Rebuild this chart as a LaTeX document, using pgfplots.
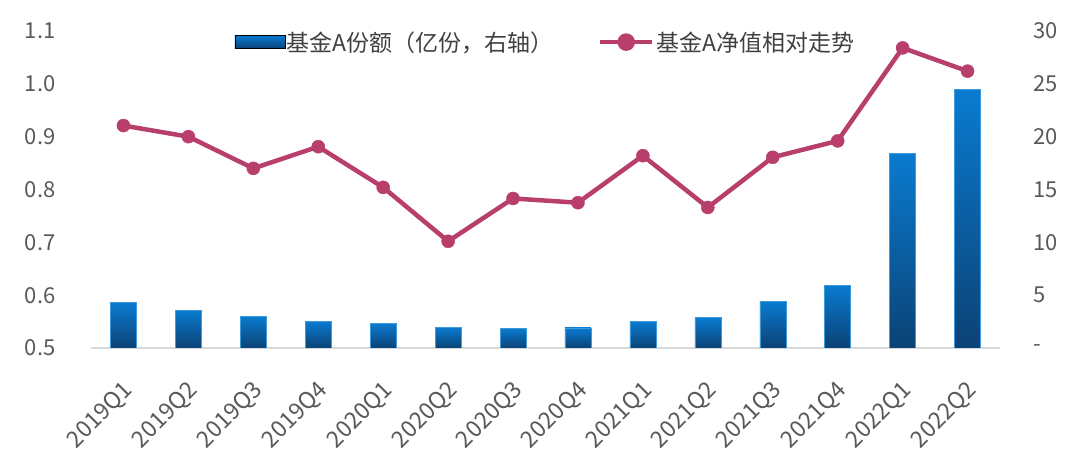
\documentclass[border=0pt]{standalone}
\usepackage{pgfplots}
\pgfplotsset{compat=1.18}
\usepackage{fontspec}
\setmainfont{Noto Sans CJK SC}
\definecolor{txt}{HTML}{595959}
\definecolor{legtxt}{HTML}{404040}
\definecolor{linec}{HTML}{B83E6C}
\definecolor{bartop}{HTML}{0A7BD0}
\definecolor{barmid}{HTML}{0868B2}
\definecolor{barbot}{HTML}{0B4275}
\definecolor{baredge}{HTML}{3D9BDD}
\definecolor{axc}{HTML}{D9D9D9}
\pgfplotstableread{
x nav
0 0.921
1 0.900
2 0.840
3 0.881
4 0.804
5 0.702
6 0.783
7 0.775
8 0.864
9 0.766
10 0.861
11 0.892
12 1.068
13 1.024
}\navtable
\pgfplotsset{
  sharebar/.style={ybar, bar width=26pt, bar shift=0pt, draw=baredge, line width=0.4pt,
    top color=bartop, middle color=barmid, bottom color=barbot},
}
\begin{document}
\begin{tikzpicture}
\useasboundingbox (0,0) rectangle (1080pt,460pt);
\begin{axis}[
  at={(91pt,112pt)}, anchor=south west,
  scale only axis, width=909pt, height=317pt,
  xmin=-0.5, xmax=13.5, ymin=0, ymax=30,
  axis x line*=bottom, axis y line*=right,
  x axis line style={draw=axc, line width=1.2pt, -},
  y axis line style={draw=none},
  xtick={0,...,13},
  xticklabels={2019Q1,2019Q2,2019Q3,2019Q4,2020Q1,2020Q2,2020Q3,2020Q4,2021Q1,2021Q2,2021Q3,2021Q4,2022Q1,2022Q2},
  x tick label style={rotate=45, anchor=north east, font=\fontsize{23}{25}\selectfont, text=txt, inner sep=1pt, xshift=-22.6pt, yshift=-19.8pt},
  ytick={0,5,10,15,20,25,30},
  yticklabels={-,5,10,15,20,25,30},
  y tick label style={font=\fontsize{22}{24}\selectfont, text=txt, anchor=west, xshift=30pt},
  major tick length=0pt,
  /pgf/number format/assume math mode=true,
]
\addplot[sharebar] coordinates {(0,4.31)};
\addplot[sharebar] coordinates {(1,3.55)};
\addplot[sharebar] coordinates {(2,3.00)};
\addplot[sharebar] coordinates {(3,2.53)};
\addplot[sharebar] coordinates {(4,2.31)};
\addplot[sharebar] coordinates {(5,1.96)};
\addplot[sharebar] coordinates {(6,1.84)};
\addplot[sharebar] coordinates {(7,1.90)};
\addplot[sharebar] coordinates {(8,2.53)};
\addplot[sharebar] coordinates {(9,2.88)};
\addplot[sharebar] coordinates {(10,4.43)};
\addplot[sharebar] coordinates {(11,5.95)};
\addplot[sharebar] coordinates {(12,18.4)};
\addplot[sharebar] coordinates {(13,24.5)};
\end{axis}
\begin{axis}[
  at={(91pt,112pt)}, anchor=south west,
  scale only axis, width=909pt, height=317pt,
  xmin=-0.5, xmax=13.5, ymin=0.5, ymax=1.1,
  axis x line=none, axis y line*=left,
  y axis line style={draw=none},
  ytick={0.5,0.6,0.7,0.8,0.9,1.0,1.1},
  yticklabel style={/pgf/number format/.cd, fixed, fixed zerofill, precision=1, /tikz/.cd, font=\fontsize{22}{24}\selectfont, text=txt, anchor=east, xshift=-32pt},
  major tick length=0pt,
  /pgf/number format/assume math mode=true,
  legend style={draw=none, fill=none, at={(0.5,0.965)}, anchor=center, font=\fontsize{23}{25}\selectfont, text=legtxt, legend columns=2, /tikz/every even column/.append style={column sep=42pt}, inner sep=0pt},
  legend cell align=left,
]
\addlegendimage{legend image code/.code={\fill[top color=bartop, middle color=barmid, bottom color=barbot] (0pt,-6.5pt) rectangle (50pt,6.5pt);}}
\addlegendentry{基金A份额（亿份，右轴）}
\addplot[color=linec, line width=4.5pt, mark=*, mark size=6.5pt, mark options={fill=linec, draw=linec, line width=0.5pt},
  legend image code/.code={\draw[color=linec, line width=4.5pt] (0pt,0pt) -- (52pt,0pt); \fill[linec] (26pt,0pt) circle (6.5pt);}] table[x=x,y=nav]{\navtable};
\addlegendentry{基金A净值相对走势}
\end{axis}
\end{tikzpicture}
\end{document}
